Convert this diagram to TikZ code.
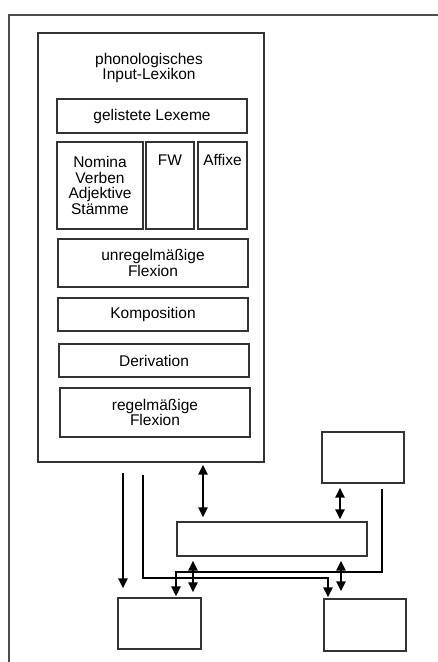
\documentclass[tikz,border=0pt]{standalone}
\usepackage{fontspec}
\setmainfont{Liberation Sans}
\usetikzlibrary{calc,arrows.meta}

\begin{document}
\begin{tikzpicture}[x=1pt, y=-1pt,
		beschr/.style = {align=center, inner sep=0pt, font=\fontsize{15.5}{15.5}\selectfont},
		box/.style = {draw=black!80, line width=1.2pt, beschr},
		pfeil/.style = {line width=2.4pt, -{Triangle[length=10pt, width=9pt]}},
		dpfeil/.style = {line width=2.4pt, {Triangle[length=10pt, width=9pt]}-{Triangle[length=10pt, width=9pt]}}]
	\useasboundingbox (0,0) rectangle (438,662);
	\draw[line width=1.5pt, black!70] (9,662) -- (9,15) -- (438,15);
	\node[name=lex, box, minimum width=226, minimum height=429] at (151,247.5) {};
	\node[name=titel, beschr] at (149,68) {phonologisches\\Input-Lexikon};
	\node[name=gelistet, box, minimum width=190, minimum height=34] at (152,116) {gelistete Lexeme};
	\node[name=nomina, box, minimum width=86, minimum height=87] at (100,185.5) {Nomina\\Verben\\Adjektive\\Stämme};
	\node[name=fw, box, minimum width=48, minimum height=87,
		label={[name=fwtext, beschr, anchor=north, yshift=-13pt]north:FW}] at (170,185.5) {};
	\node[name=affixe, box, minimum width=49, minimum height=87,
		label={[name=affixetext, beschr, anchor=north, yshift=-13pt]north:Affixe}] at (222.5,185.5) {};
	\node[name=unreg, box, minimum width=190, minimum height=48] at (153,263) {unregelmäßige\\Flexion};
	\node[name=komp, box, minimum width=190, minimum height=33] at (153,314.5) {Komposition};
	\node[name=deriv, box, minimum width=190, minimum height=33] at (154,360.5) {Derivation};
	\node[name=reg, box, minimum width=190, minimum height=49] at (155,412.5) {regelmäßige\\Flexion};

	\node[name=tr, box, minimum width=82, minimum height=51] at (363,457.5) {};
	\node[name=mid, box, minimum width=190, minimum height=34] at (272,539) {};
	\node[name=bl, box, minimum width=83, minimum height=51] at (159.5,623.5) {};
	\node[name=br, box, minimum width=82, minimum height=52] at (365,625) {};

	\coordinate (a1) at (123,473);
	\coordinate (a2) at (143,475);
	\coordinate (k2) at (328,578);
	\coordinate (a5) at (382,489);
	\coordinate (k5) at (176,572);
	\coordinate (x3) at (203,0);
	\coordinate (x4) at (340,0);
	\coordinate (x6) at (193,0);
	\coordinate (x7) at (341,0);

	\draw[pfeil, shorten >=9pt] (a1) -- (a1 |- bl.north);
	\draw[pfeil, shorten >=1pt] (a2) |- (k2) -- (k2 |- br.north);
	\draw[pfeil, shorten >=1pt] (a5) |- (k5) -- (k5 |- bl.north);
	\draw[dpfeil, shorten <=2pt, shorten >=4pt] (x3 |- lex.south) -- (x3 |- mid.north);
	\draw[dpfeil, shorten <=4pt, shorten >=2pt] (x4 |- tr.south) -- (x4 |- mid.north);
	\draw[dpfeil, shorten <=4pt, shorten >=5pt] (x6 |- mid.south) -- (x6 |- bl.north);
	\draw[dpfeil, shorten <=4pt, shorten >=7pt] (x7 |- mid.south) -- (x7 |- br.north);
\end{tikzpicture}
\end{document}
